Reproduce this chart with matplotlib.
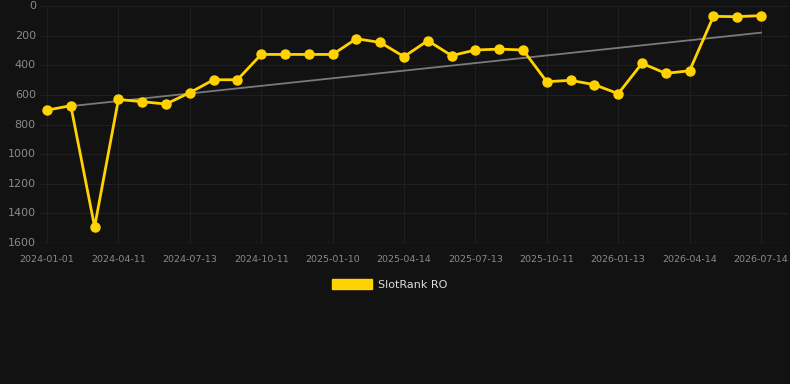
import matplotlib
matplotlib.use("Agg")
import matplotlib.pyplot as plt
import numpy as np
from matplotlib.patches import Rectangle

# Data (monthly ranks)
ranks = [703, 673, 1491, 631, 646, 662, 585, 498, 498, 327, 327, 327, 327, 221, 246,
         342, 234, 335, 297, 291, 297, 511, 502, 531, 592, 387, 455, 437, 70, 72, 65]
tick_labels = ["2024-01-01", "2024-04-11", "2024-07-13", "2024-10-11", "2025-01-10",
               "2025-04-14", "2025-07-13", "2025-10-11", "2026-01-13", "2026-04-14",
               "2026-07-14"]
trend_idx = [1, 30]
trend_vals = [676, 180]
y_ticks = [0, 200, 400, 600, 800, 1000, 1200, 1400, 1600]
series_name = "SlotRank RO"

bg = "#121212"
gold = "#FFD200"

fig = plt.figure(figsize=(7.9, 3.84), dpi=100, facecolor=bg)
W, H = 790, 384
left, right, top, bottom = 40, 788, 6, 243
ax = fig.add_axes([left / W, 1 - bottom / H, (right - left) / W, (bottom - top) / H])
ax.set_facecolor(bg)

x = np.arange(len(ranks))
# x-limits: index 0 at px 47, index 30 at px 761
ppi = (761 - 47) / 30
ax.set_xlim(-(47 - left) / ppi, 30 + (right - 761) / ppi)
ax.set_ylim(1600, 0)

ax.plot(trend_idx, trend_vals, color="#7a7a7a", lw=1.3, zorder=2)
ax.plot(x, ranks, color=gold, lw=2.0, marker="o", ms=6.5, zorder=3)

ax.set_yticks(y_ticks)
ax.set_yticklabels([str(v) for v in y_ticks])
ax.set_xticks(np.arange(0, 31, 3))
ax.set_xticklabels(tick_labels)
ax.grid(True, color="#1f1f1f", lw=0.8)
ax.axhline(1600, color="#2c2c2c", lw=1.0, zorder=1)
ax.set_axisbelow(True)
for s in ax.spines.values():
    s.set_visible(False)
ax.tick_params(axis="both", length=0, colors="#8a8a8a")
ax.tick_params(axis="y", labelsize=8, pad=3)
ax.tick_params(axis="x", labelsize=6.8, pad=9)
for lab in ax.get_yticklabels():
    lab.set_verticalalignment("center")

# Legend
fig.patches.append(Rectangle((332 / W, 1 - 289 / H), 40 / W, 10 / H,
                             transform=fig.transFigure, color=gold))
fig.text(378 / W, 1 - 284.5 / H, series_name, color="#dddddd", fontsize=8, va="center")

fig.savefig("out.png", dpi=100, facecolor=bg)
